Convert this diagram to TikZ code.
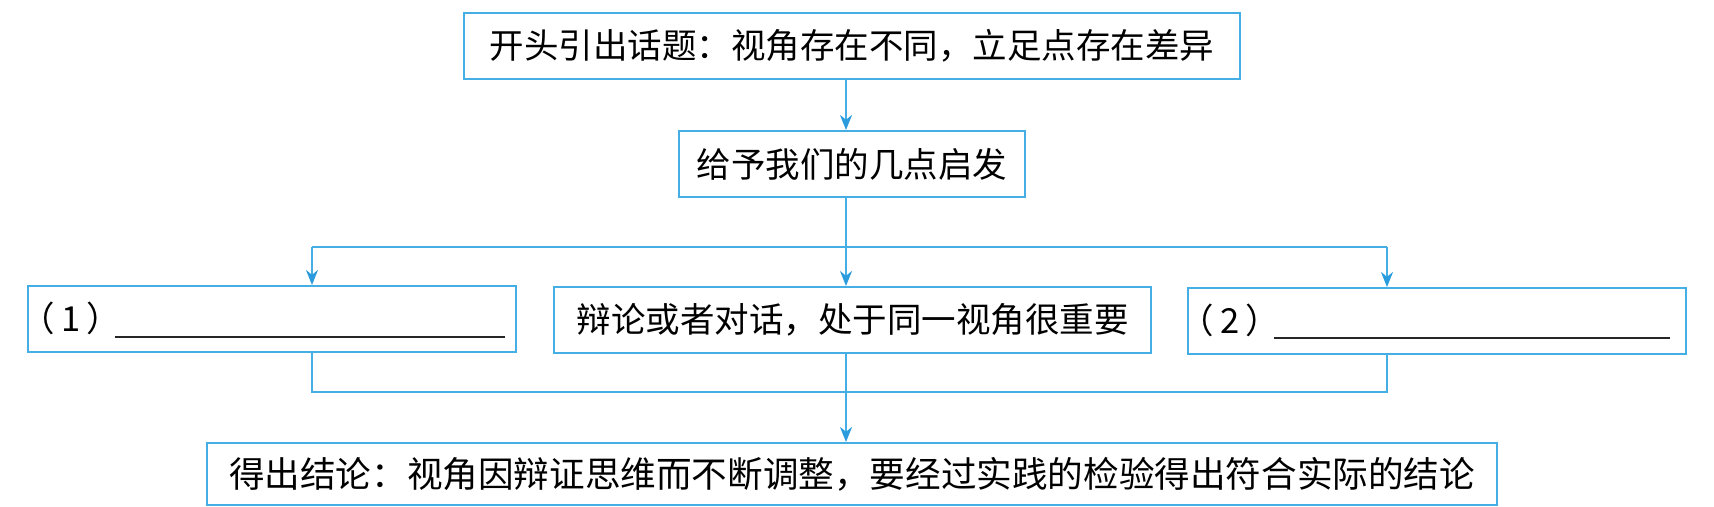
\documentclass[tikz,border=0pt]{standalone}
\usepackage{fontspec}
\setmainfont{Noto Sans CJK SC}
\usetikzlibrary{arrows.meta}
\definecolor{lineblue}{HTML}{45AEE4}
\definecolor{tipblue}{HTML}{2A9CDE}
\tikzset{
  box/.style={draw=lineblue, line width=1pt, inner sep=0pt, minimum height=33pt,
    font=\fontsize{17.25pt}{20pt}\selectfont},
  txt/.style={inner sep=0pt, font=\fontsize{17.25pt}{20pt}\selectfont},
  conn/.style={draw=lineblue, line width=1.1pt},
  arr/.style={conn, -{Stealth[length=7.5pt,width=6pt,inset=2.4pt,color=tipblue]}},
  blank/.style={draw=black!85, line width=0.9pt}
}
\begin{document}
\begin{tikzpicture}[x=0.5pt,y=-0.5pt]
\useasboundingbox[fill=white] (0,0) rectangle (1714,507);
% boxes
\node[box, minimum width=388pt] (top) at (852,46) {开头引出话题：视角存在不同，立足点存在差异};
\node[box, minimum width=173pt] (mid) at (852,164) {给予我们的几点启发};
\node[box, minimum width=244pt] (b1) at (272,319) {};
\node[box, minimum width=298.5pt] (b2) at (852.5,320) {辩论或者对话，处于同一视角很重要};
\node[box, minimum width=249pt] (b3) at (1437,321) {};
\node[box, minimum width=645pt, minimum height=31pt, font=\fontsize{17.8pt}{20pt}\selectfont] (bot) at (852,474) {得出结论：视角因辩证思维而不断调整，要经过实践的检验得出符合实际的结论};
% texts inside the blank boxes
\node[txt] (l1) at (71,318) {（\kern3pt 1\kern3pt）};
\node[txt] (l2) at (1230,320) {（\kern3pt 2\kern3pt）};
\coordinate (u1s) at (115,337);
\coordinate (u1e) at (505,337);
\coordinate (u2s) at (1274,338);
\coordinate (u2e) at (1670,338);
\draw[blank] (u1s) -- (u1e);
\draw[blank] (u2s) -- (u2e);
% connector points
\coordinate (sp) at (846,247);
\coordinate (sl) at (312,247);
\coordinate (sr) at (1387,247);
\coordinate (jl) at (312,392);
\coordinate (jr) at (1387,392);
% connectors
\draw[arr] (top.south -| sp) -- (mid.north -| sp);
\draw[conn] (mid.south -| sp) -- (sp);
\draw[conn] (sl) -- (sr);
\draw[arr] (sl) -- (b1.north -| sl);
\draw[arr] (sp) -- (b2.north -| sp);
\draw[arr] (sr) -- (b3.north -| sr);
\draw[conn] (b1.south -| jl) -- (jl) -- (jr) -- (b3.south -| jr);
\draw[arr] (b2.south -| sp) -- (bot.north -| sp);
\end{tikzpicture}
\end{document}
